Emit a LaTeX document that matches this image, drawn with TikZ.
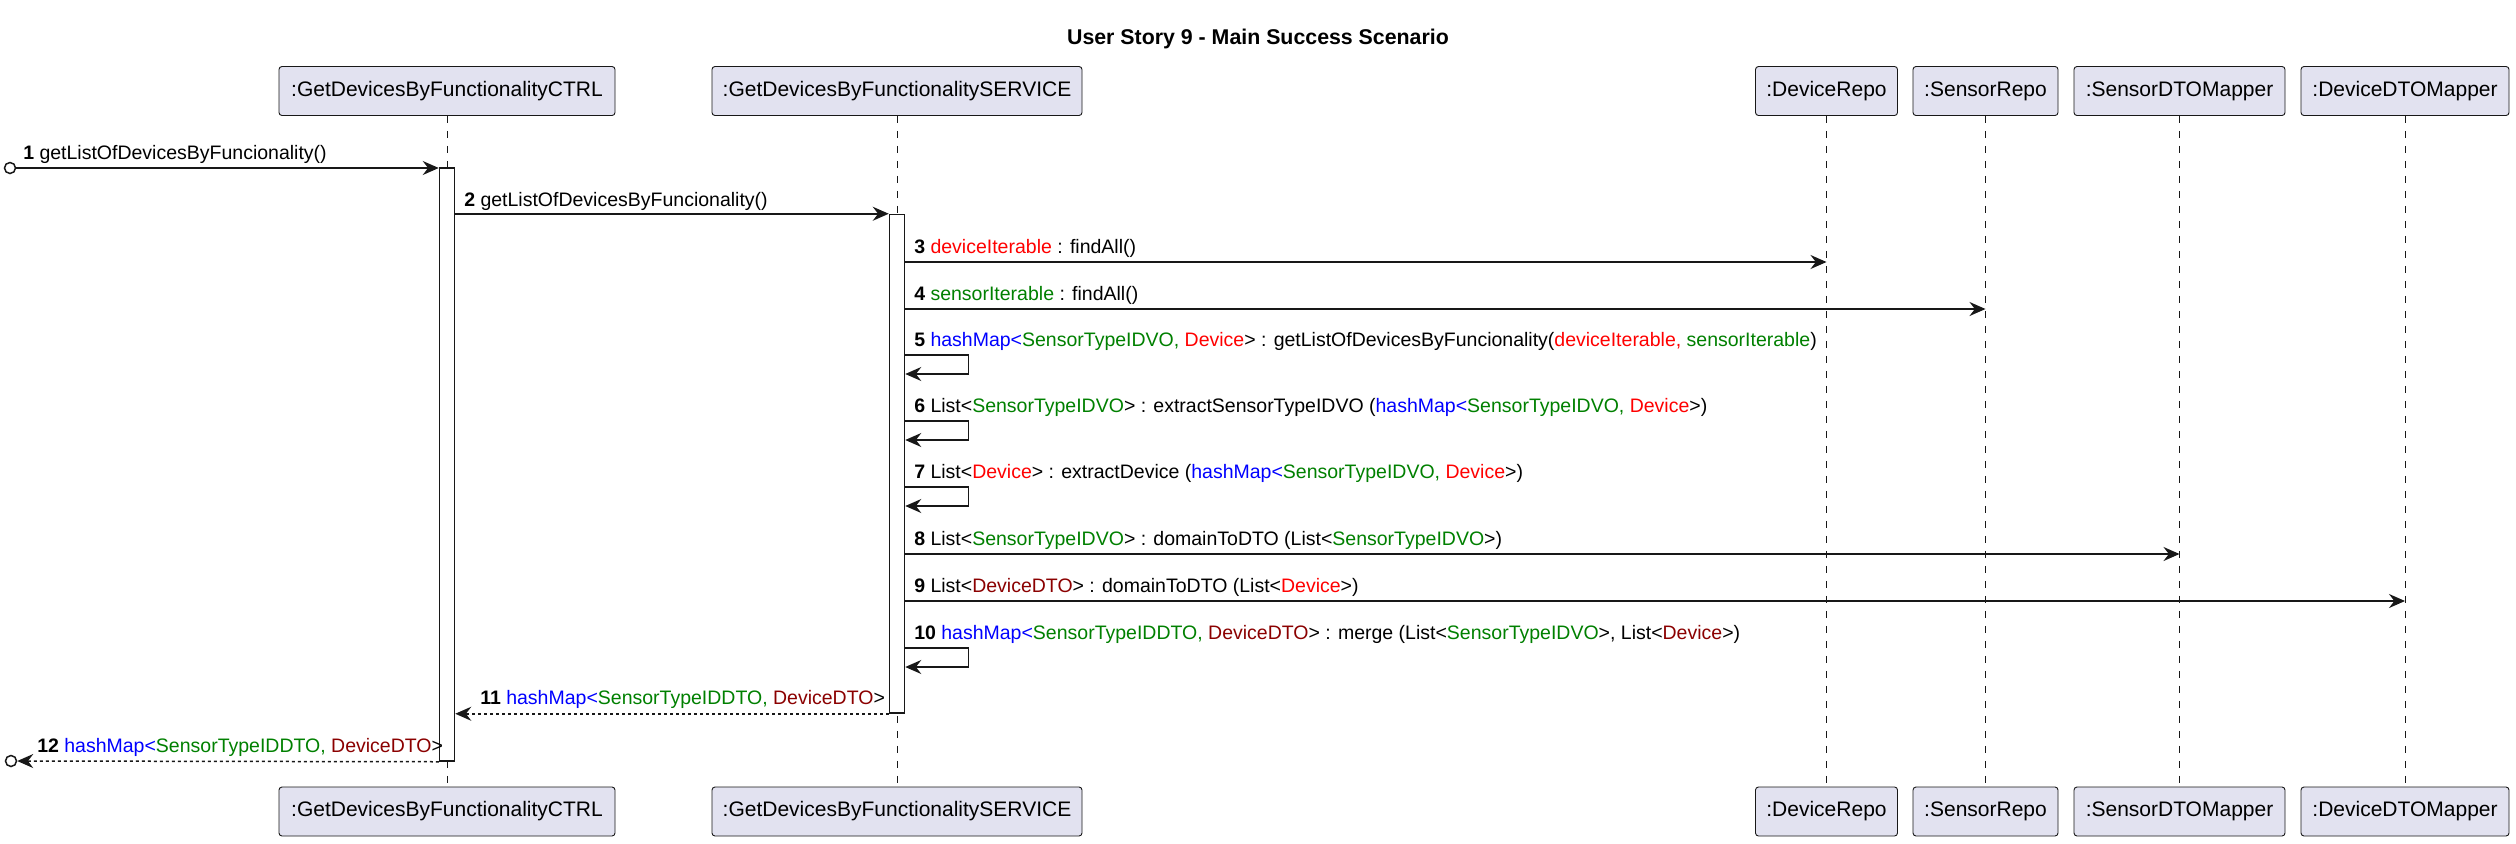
\documentclass[tikz,border=0pt]{standalone}
\usepackage{fontspec}
\setmainfont{Liberation Sans}
\usetikzlibrary{arrows.meta,calc}
\newlength\pxu
\setlength\pxu{0.75pt}
\definecolor{boxfill}{HTML}{E2E2F0}
\definecolor{ink}{HTML}{181818}
\definecolor{cR}{HTML}{FF0000}
\definecolor{cG}{HTML}{008000}
\definecolor{cB}{HTML}{0000FF}
\definecolor{cD}{HTML}{8B0000}
\newcommand\tR[1]{\textcolor{cR}{#1}}
\newcommand\tG[1]{\textcolor{cG}{#1}}
\newcommand\tB[1]{\textcolor{cB}{#1}}
\newcommand\tD[1]{\textcolor{cD}{#1}}
\begin{document}
\begin{tikzpicture}[x=0.75pt,y=-0.75pt,
  part/.style={draw=ink, line width=0.9\pxu, fill=boxfill, rounded corners=3\pxu,
    minimum height=49\pxu, inner sep=0pt, font=\fontsize{15.75}{18}\selectfont},
  act/.style={draw=ink, fill=white, line width=1.5\pxu, minimum width=15\pxu, inner sep=0pt},
  lifeline/.style={draw=ink, line width=0.75\pxu, dash pattern=on 7.5\pxu off 7.5\pxu},
  msg/.style={draw=ink, line width=1.5\pxu, -{Stealth[length=12pt, width=10.5pt, inset=4pt]}},
  ret/.style={msg, dash pattern=on 3\pxu off 3\pxu},
  foundc/.style={circle, draw=ink, fill=white, line width=1.5\pxu, minimum size=11\pxu, inner sep=0pt},
  lbl/.style={anchor=base west, inner sep=0pt, font=\fontsize{14.625}{17}\selectfont},
  ttl/.style={anchor=base, inner sep=0pt, font=\fontsize{16}{18}\selectfont\bfseries}
]
\useasboundingbox[fill=white] (0,0) rectangle (2516,843);

\node[ttl] (title) at (1258,44) {User Story 9 - Main Success Scenario};

% participants (top)
\node[part, minimum width=336\pxu] (hctrl) at (447,91) {:GetDevicesByFunctionalityCTRL};
\node[part, minimum width=370\pxu] (hsrv) at (897,91) {:GetDevicesByFunctionalitySERVICE};
\node[part, minimum width=142\pxu] (hdr) at (1826.5,91) {:DeviceRepo};
\node[part, minimum width=145\pxu] (hsr) at (1985.5,91) {:SensorRepo};
\node[part, minimum width=211\pxu] (hsm) at (2179.5,91) {:SensorDTOMapper};
\node[part, minimum width=208\pxu] (hdm) at (2405,91) {:DeviceDTOMapper};
% participants (bottom)
\node[part, minimum width=336\pxu] (fctrl) at (447,811.5) {:GetDevicesByFunctionalityCTRL};
\node[part, minimum width=370\pxu] (fsrv) at (897,811.5) {:GetDevicesByFunctionalitySERVICE};
\node[part, minimum width=142\pxu] (fdr) at (1826.5,811.5) {:DeviceRepo};
\node[part, minimum width=145\pxu] (fsr) at (1985.5,811.5) {:SensorRepo};
\node[part, minimum width=211\pxu] (fsm) at (2179.5,811.5) {:SensorDTOMapper};
\node[part, minimum width=208\pxu] (fdm) at (2405,811.5) {:DeviceDTOMapper};

% lifelines
\draw[lifeline] (hctrl.south) -- (fctrl.north);
\draw[lifeline] (hsrv.south) -- (fsrv.north);
\draw[lifeline] (hdr.south) -- (fdr.north);
\draw[lifeline] (hsr.south) -- (fsr.north);
\draw[lifeline] (hsm.south) -- (fsm.north);
\draw[lifeline] (hdm.south) -- (fdm.north);

% activations
\node[act, minimum height=593\pxu] (actA) at (447,464.5) {};
\node[act, minimum height=498.5\pxu] (actB) at (897,463.75) {};

% found / lost circles
\node[foundc] (f1) at (10,168) {};
\node[foundc] (f12) at (11,761) {};

% message rows
\coordinate (m3) at (0,262);
\coordinate (m4) at (0,309);
\coordinate (m5) at (0,355);
\coordinate (m6) at (0,421);
\coordinate (m7) at (0,487);
\coordinate (m8) at (0,554);
\coordinate (m9) at (0,601);
\coordinate (m10) at (0,648);

% 1
\draw[msg] (f1.east) -- (f1 -| actA.west);
\node[lbl] (t1) at (23,159.5) {\textbf{1} getListOfDevicesByFuncionality()};
% 2
\draw[msg] (actA.east |- actB.north) -- (actB.north west);
\node[lbl] (t2) at (464,206) {\textbf{2} getListOfDevicesByFuncionality()};
% 3
\draw[msg] (m3 -| actB.east) -- (m3 -| hdr.south);
\node[lbl] (t3) at (914,253.5) {\textbf{3} \tR{deviceIterable} : findAll()};
% 4
\draw[msg] (m4 -| actB.east) -- (m4 -| hsr.south);
\node[lbl] (t4) at (914,300.5) {\textbf{4} \tG{sensorIterable} : findAll()};
% 5
\draw[msg] (m5 -| actB.east) -- ++(63,0) -- ++(0,19) -- ++(-63,0);
\node[lbl] (t5) at (914,346.5) {\textbf{5} \tB{hashMap<}\tG{SensorTypeIDVO, }\tR{Device}> : getListOfDevicesByFuncionality(\tR{deviceIterable, }\tG{sensorIterable})};
% 6
\draw[msg] (m6 -| actB.east) -- ++(63,0) -- ++(0,19) -- ++(-63,0);
\node[lbl] (t6) at (914,412.5) {\textbf{6} List<\tG{SensorTypeIDVO}> : extractSensorTypeIDVO (\tB{hashMap<}\tG{SensorTypeIDVO, }\tR{Device}>)};
% 7
\draw[msg] (m7 -| actB.east) -- ++(63,0) -- ++(0,19) -- ++(-63,0);
\node[lbl] (t7) at (914,478.5) {\textbf{7} List<\tR{Device}> : extractDevice (\tB{hashMap<}\tG{SensorTypeIDVO, }\tR{Device}>)};
% 8
\draw[msg] (m8 -| actB.east) -- (m8 -| hsm.south);
\node[lbl] (t8) at (914,545.5) {\textbf{8} List<\tG{SensorTypeIDVO}> : domainToDTO (List<\tG{SensorTypeIDVO}>)};
% 9
\draw[msg] (m9 -| actB.east) -- (m9 -| hdm.south);
\node[lbl] (t9) at (914,592.5) {\textbf{9} List<\tD{DeviceDTO}> : domainToDTO (List<\tR{Device}>)};
% 10
\draw[msg] (m10 -| actB.east) -- ++(63,0) -- ++(0,19) -- ++(-63,0);
\node[lbl] (t10) at (914,639.5) {\textbf{10} \tB{hashMap<}\tG{SensorTypeIDDTO, }\tD{DeviceDTO}> : merge (List<\tG{SensorTypeIDVO}>, List<\tD{Device}>)};
% 11
\draw[ret] (actB.south west) -- (actB.south west -| actA.east);
\node[lbl] (t11) at (480,704.5) {\textbf{11} \tB{hashMap<}\tG{SensorTypeIDDTO, }\tD{DeviceDTO}>};
% 12
\draw[ret] (actA.south west) -- (f12.east);
\node[lbl] (t12) at (37,752.5) {\textbf{12} \tB{hashMap<}\tG{SensorTypeIDDTO, }\tD{DeviceDTO}>};
\end{tikzpicture}
\end{document}
